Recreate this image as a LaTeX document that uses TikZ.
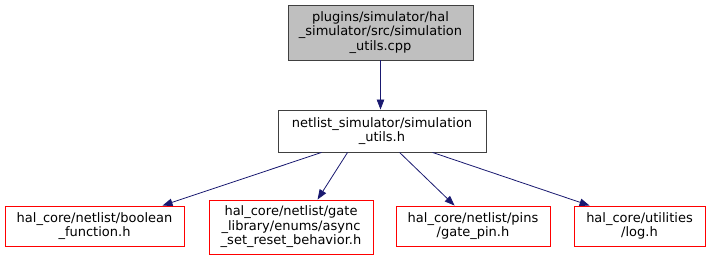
\documentclass[tikz,border=0pt]{standalone}
\usepackage{fontspec}
\setmainfont{DejaVu Sans}
\usetikzlibrary{arrows.meta,calc}
\definecolor{edgeblue}{HTML}{191970}
\definecolor{boxgray}{HTML}{BFBFBF}
\definecolor{boxedge}{HTML}{404040}
\tikzset{
  x=1pt,y=-1pt,
  filebox/.style={draw=red,line width=0.9pt,inner sep=0pt,align=center,
    font=\fontsize{13}{14.5}\selectfont},
  mainbox/.style={draw=boxedge,fill=boxgray,line width=0.9pt,inner sep=0pt,align=center,
    font=\fontsize{13}{14.5}\selectfont},
  midbox/.style={draw=boxedge,line width=0.9pt,inner sep=0pt,align=center,
    font=\fontsize{13}{14.5}\selectfont},
  dep/.style={draw=edgeblue,line width=0.8pt,-{Triangle[length=10pt,width=7.5pt,fill=edgeblue]}}
}
\begin{document}
\begin{tikzpicture}
\useasboundingbox (0,0) rectangle (711,260);
\node[mainbox,minimum width=185pt,minimum height=55pt] (top) at (380.5,32.5)
  {plugins/simulator/hal\\\_simulator/src/simulation\\\_utils.cpp};
\node[midbox,minimum width=208pt,minimum height=42pt] (mid) at (382,131)
  {netlist\_simulator/simulation\\\_utils.h};
\node[filebox,minimum width=179pt,minimum height=40pt] (bool) at (94.5,226)
  {hal\_core/netlist/boolean\\\_function.h};
\node[filebox,minimum width=164pt,minimum height=54pt] (async) at (291,227)
  {hal\_core/netlist/gate\\\_library/enums/async\\\_set\_reset\_behavior.h};
\node[filebox,minimum width=154pt,minimum height=40pt] (pins) at (473,226)
  {hal\_core/netlist/pins\\/gate\_pin.h};
\node[filebox,minimum width=131pt,minimum height=40pt] (log) at (639.5,226)
  {hal\_core/utilities\\/log.h};
\draw[dep] (top.south) -- (top.south |- mid.north);
\draw[dep] ($(mid.south west)+(44,0)$) -- ($(bool.north west)+(158,0)$);
\draw[dep] ($(mid.south west)+(70,0)$) -- ($(async.north west)+(109,0)$);
\draw[dep] ($(mid.south west)+(122,0)$) -- ($(pins.north west)+(59,0)$);
\draw[dep] ($(mid.south west)+(155,0)$) -- ($(log.north west)+(16,0)$);
\end{tikzpicture}
\end{document}
